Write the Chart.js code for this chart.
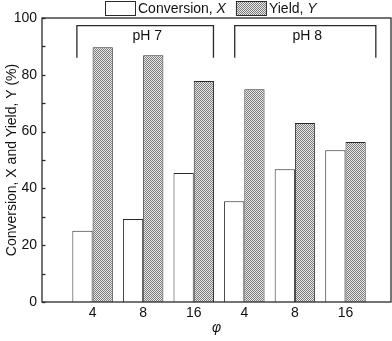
<!DOCTYPE html>
<html><head><meta charset="utf-8">
<script src="https://cdn.jsdelivr.net/npm/chart.js@4/dist/chart.umd.min.js"></script>
<style>html,body{margin:0;padding:0;background:#fff}</style>
</head><body>
<canvas id="c" width="392" height="341"></canvas>
<script>
// ---- data ----
const categories = ['4', '8', '16', '4', '8', '16'];
const seriesNames = ['Conversion, X', 'Yield, Y'];
const conversion = [25.1, 29.2, 45.4, 35.5, 46.7, 53.4];
const yieldVals = [89.7, 86.9, 77.8, 74.9, 63.0, 56.3];
const groupLabels = ['pH 7', 'pH 8'];
const groupFrom = [0.69, 3.81];
const groupTo = [3.39, 6.6];
const groupTop = [97.3, 97.3];
const groupBottom = [86, 86];

const FONT = '"Liberation Sans", Arial, Helvetica, sans-serif';
const canvas = document.getElementById('c');
const ctx = canvas.getContext('2d');

function makePattern() {
  const p = document.createElement('canvas');
  p.width = 2; p.height = 2;
  const g = p.getContext('2d');
  g.fillStyle = '#e8e8e8'; g.fillRect(0, 0, 2, 2);
  g.fillStyle = '#7c7c7c'; g.fillRect(0, 0, 1, 1); g.fillRect(1, 1, 1, 1);
  return ctx.createPattern(p, 'repeat');
}
const pattern = makePattern();
const fills = ['#ffffff', pattern];

const framePlugin = {
  id: 'frame',
  afterDatasetsDraw(chart) {
    const {ctx, chartArea: a, scales} = chart;
    const y = scales.y, x = scales.x;
    ctx.save();
    ctx.strokeStyle = '#2a2a2a';
    ctx.lineWidth = 1.3;
    ctx.strokeRect(a.left, a.top, a.right - a.left, a.bottom - a.top);
    y.ticks.forEach(t => {
      const py = Math.round(y.getPixelForValue(t.value)) + 0.5;
      ctx.beginPath();
      ctx.moveTo(a.left, py);
      ctx.lineTo(a.left + 3.5, py);
      ctx.stroke();
    });
    ctx.fillStyle = '#111';
    ctx.font = '14px ' + FONT;
    ctx.textAlign = 'center';
    ctx.textBaseline = 'top';
    groupLabels.forEach((lab, i) => {
      const x0 = x.getPixelForValue(groupFrom[i]);
      const x1 = x.getPixelForValue(groupTo[i]);
      const yt = y.getPixelForValue(groupTop[i]);
      const yb = y.getPixelForValue(groupBottom[i]);
      ctx.beginPath();
      ctx.moveTo(x0, yb); ctx.lineTo(x0, yt); ctx.lineTo(x1, yt); ctx.lineTo(x1, yb);
      ctx.stroke();
      ctx.fillText(lab, (x0 + x1) / 2 + 2, yt + 3);
    });
    ctx.restore();
  },
  afterDraw(chart) {
    const {ctx} = chart;
    ctx.save();
    ctx.textBaseline = 'middle';
    ctx.textAlign = 'left';
    let cx = 105;
    const boxW = 30, boxH = 14, top = 1;
    chart.data.datasets.forEach((ds, i) => {
      ctx.fillStyle = fills[i];
      ctx.fillRect(cx, top, boxW, boxH);
      ctx.strokeStyle = '#2a2a2a';
      ctx.lineWidth = 1;
      ctx.strokeRect(cx + 0.5, top + 0.5, boxW, boxH);
      cx += boxW + 3;
      const parts = ds.label.split(', ');
      ctx.fillStyle = '#111';
      ctx.font = '14px ' + FONT;
      const a = parts[0] + ', ';
      ctx.fillText(a, cx, top + boxH / 2 + 1);
      cx += ctx.measureText(a).width;
      ctx.font = 'italic 14px ' + FONT;
      ctx.fillText(parts[1], cx, top + boxH / 2 + 1);
      cx += ctx.measureText(parts[1]).width + 10;
    });
    ctx.restore();
  }
};

new Chart(ctx, {
  type: 'bar',
  data: {
    datasets: [
      { label: seriesNames[0], data: conversion.map((v, i) => ({x: i + 1, y: v})),
        backgroundColor: fills[0], borderColor: '#2a2a2a', borderWidth: 1,
        barPercentage: 1, categoryPercentage: 0.8 },
      { label: seriesNames[1], data: yieldVals.map((v, i) => ({x: i + 1, y: v})),
        backgroundColor: fills[1], borderColor: '#2a2a2a', borderWidth: 1,
        barPercentage: 1, categoryPercentage: 0.8 }
    ]
  },
  options: {
    responsive: false,
    animation: false,
    devicePixelRatio: 1,
    layout: { padding: { top: 18, right: 1, left: 0, bottom: 0 } },
    plugins: { legend: { display: false }, tooltip: { enabled: false } },
    scales: {
      x: {
        type: 'linear', offset: false, min: 0, max: categories.length + 0.9,
        grid: { display: false, drawTicks: false, tickLength: 0 }, border: { display: false },
        afterBuildTicks: s => { s.ticks = categories.map((c, i) => ({value: i + 1})); },
        afterFit: s => { s.height = 39; },
        ticks: { autoSkip: false, maxRotation: 0, color: '#111', padding: 3,
          font: { family: FONT, size: 14 },
          callback: (v) => categories[Math.round(v) - 1] },
        title: { display: true, text: 'φ', color: '#111',
          font: { family: FONT, size: 14, style: 'italic' }, padding: { top: 0, bottom: 4 } }
      },
      y: {
        min: 0, max: 100,
        grid: { display: false, drawTicks: false, tickLength: 0 }, border: { display: false },
        afterFit: s => { s.width = 42; },
        ticks: { stepSize: 10, color: '#111', padding: 5,
          font: { family: FONT, size: 14 },
          callback: v => (v % 20 === 0 ? v : '') },
        title: { display: true, text: 'Conversion, X and Yield, Y (%)', color: '#111',
          font: { family: FONT, size: 14, lineHeight: 1 }, padding: { top: 5, bottom: 0 } }
      }
    }
  },
  plugins: [framePlugin]
});
</script>
</body></html>
